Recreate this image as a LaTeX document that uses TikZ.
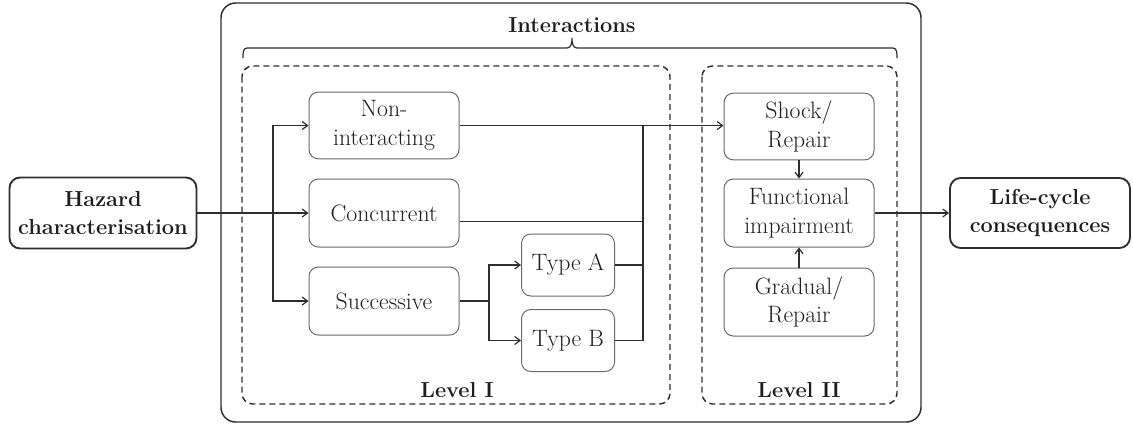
\documentclass[tikz,border=0pt]{standalone}
\usetikzlibrary{arrows.meta}
\definecolor{ink}{HTML}{2E2E2E}
\definecolor{txt}{HTML}{1E1E1E}
\definecolor{boxline}{HTML}{6A6A6A}
\tikzset{
  box/.style={draw=boxline, line width=0.75pt, rounded corners=7pt, align=center,
    text=txt, font=\fontsize{17.8}{21.5}\selectfont, inner sep=0pt},
  keybox/.style={draw=ink, line width=1.4pt, rounded corners=8pt, align=center,
    text=txt, font=\bfseries\fontsize{16.3}{20.5}\selectfont, inner sep=0pt},
  lvl/.style={draw=ink, line width=1.1pt, dash pattern=on 4.5pt off 3pt, rounded corners=8pt},
  lbl/.style={text=txt, font=\bfseries\fontsize{16.3}{20.5}\selectfont, anchor=base, inner sep=0pt},
  conn/.style={draw=ink, line width=0.9pt},
  arr/.style={conn, -{Straight Barb[length=4pt,width=6pt]}},
}
\begin{document}
\begin{tikzpicture}[x=0.75pt,y=-0.75pt]
\useasboundingbox (0,0) rectangle (1133,426);
% outer container and level frames
\draw[draw=ink, line width=1.1pt, rounded corners=11pt] (221,3) rectangle (921,422);
\draw[lvl] (242,66) rectangle (670,404);
\draw[lvl] (702,66) rectangle (897,404);
% brace
\draw[draw=ink, line width=0.9pt] (243,58) to[out=90,in=180] (247,48) -- (567,48)
  to[out=0,in=-90] (572,38) to[out=-90,in=180] (577,48) -- (893,48) to[out=0,in=90] (897,58);
\node[lbl] (inter) at (572,32) {Interactions};
\node[lbl] (lvlone) at (457,397) {Level I};
\node[lbl] (lvltwo) at (799,397) {Level II};
% nodes
\node[keybox, minimum width=140.25pt, minimum height=53.25pt] (haz) at (103,213) {Hazard\\characterisation};
\node[keybox, minimum width=135pt, minimum height=52.5pt] (life) at (1040,213) {Life-cycle\\consequences};
\node[box, minimum width=112.5pt, minimum height=50pt] (non) at (384,125.5) {Non-\\interacting};
\node[box, minimum width=112.5pt, minimum height=51pt] (conc) at (384,213) {Concurrent};
\node[box, minimum width=112.5pt, minimum height=51pt] (succ) at (384,301) {Successive};
\node[box, minimum width=69.75pt, minimum height=46.5pt] (typa) at (568,265) {Type A};
\node[box, minimum width=69.75pt, minimum height=46.5pt] (typb) at (568,340.5) {Type B};
\node[box, minimum width=112.5pt, minimum height=50pt] (shock) at (799,126.5) {Shock/\\Repair};
\node[box, minimum width=112.5pt, minimum height=51pt] (func) at (799,213) {Functional\\impairment};
\node[box, minimum width=112.5pt, minimum height=51pt] (grad) at (799,302) {Gradual/\\Repair};
% junction coordinates
\coordinate (ja) at (273,213);
\coordinate (jb) at (489,301);
\coordinate (jm) at (643,126);
% connectors
\draw[arr] (haz.east) -- (conc.west);
\draw[arr] (ja) |- (non.west);
\draw[arr] (ja) |- (succ.west);
\draw[conn] (succ.east) -- (jb);
\draw[arr] (jb) |- (typa.west);
\draw[arr] (jb) |- (typb.west);
\draw[conn] ([yshift=-6.5pt]conc.east) -| (jm);
\draw[conn] (typa.east) -| (jm);
\draw[conn] (typb.east) -| (jm);
\draw[arr] (non.east) -- (non.east -| shock.west);
\draw[arr] (shock.south) -- (func.north);
\draw[arr] (grad.north) -- (func.south);
\draw[arr] (func.east) -- (life.west);
\end{tikzpicture}
\end{document}
